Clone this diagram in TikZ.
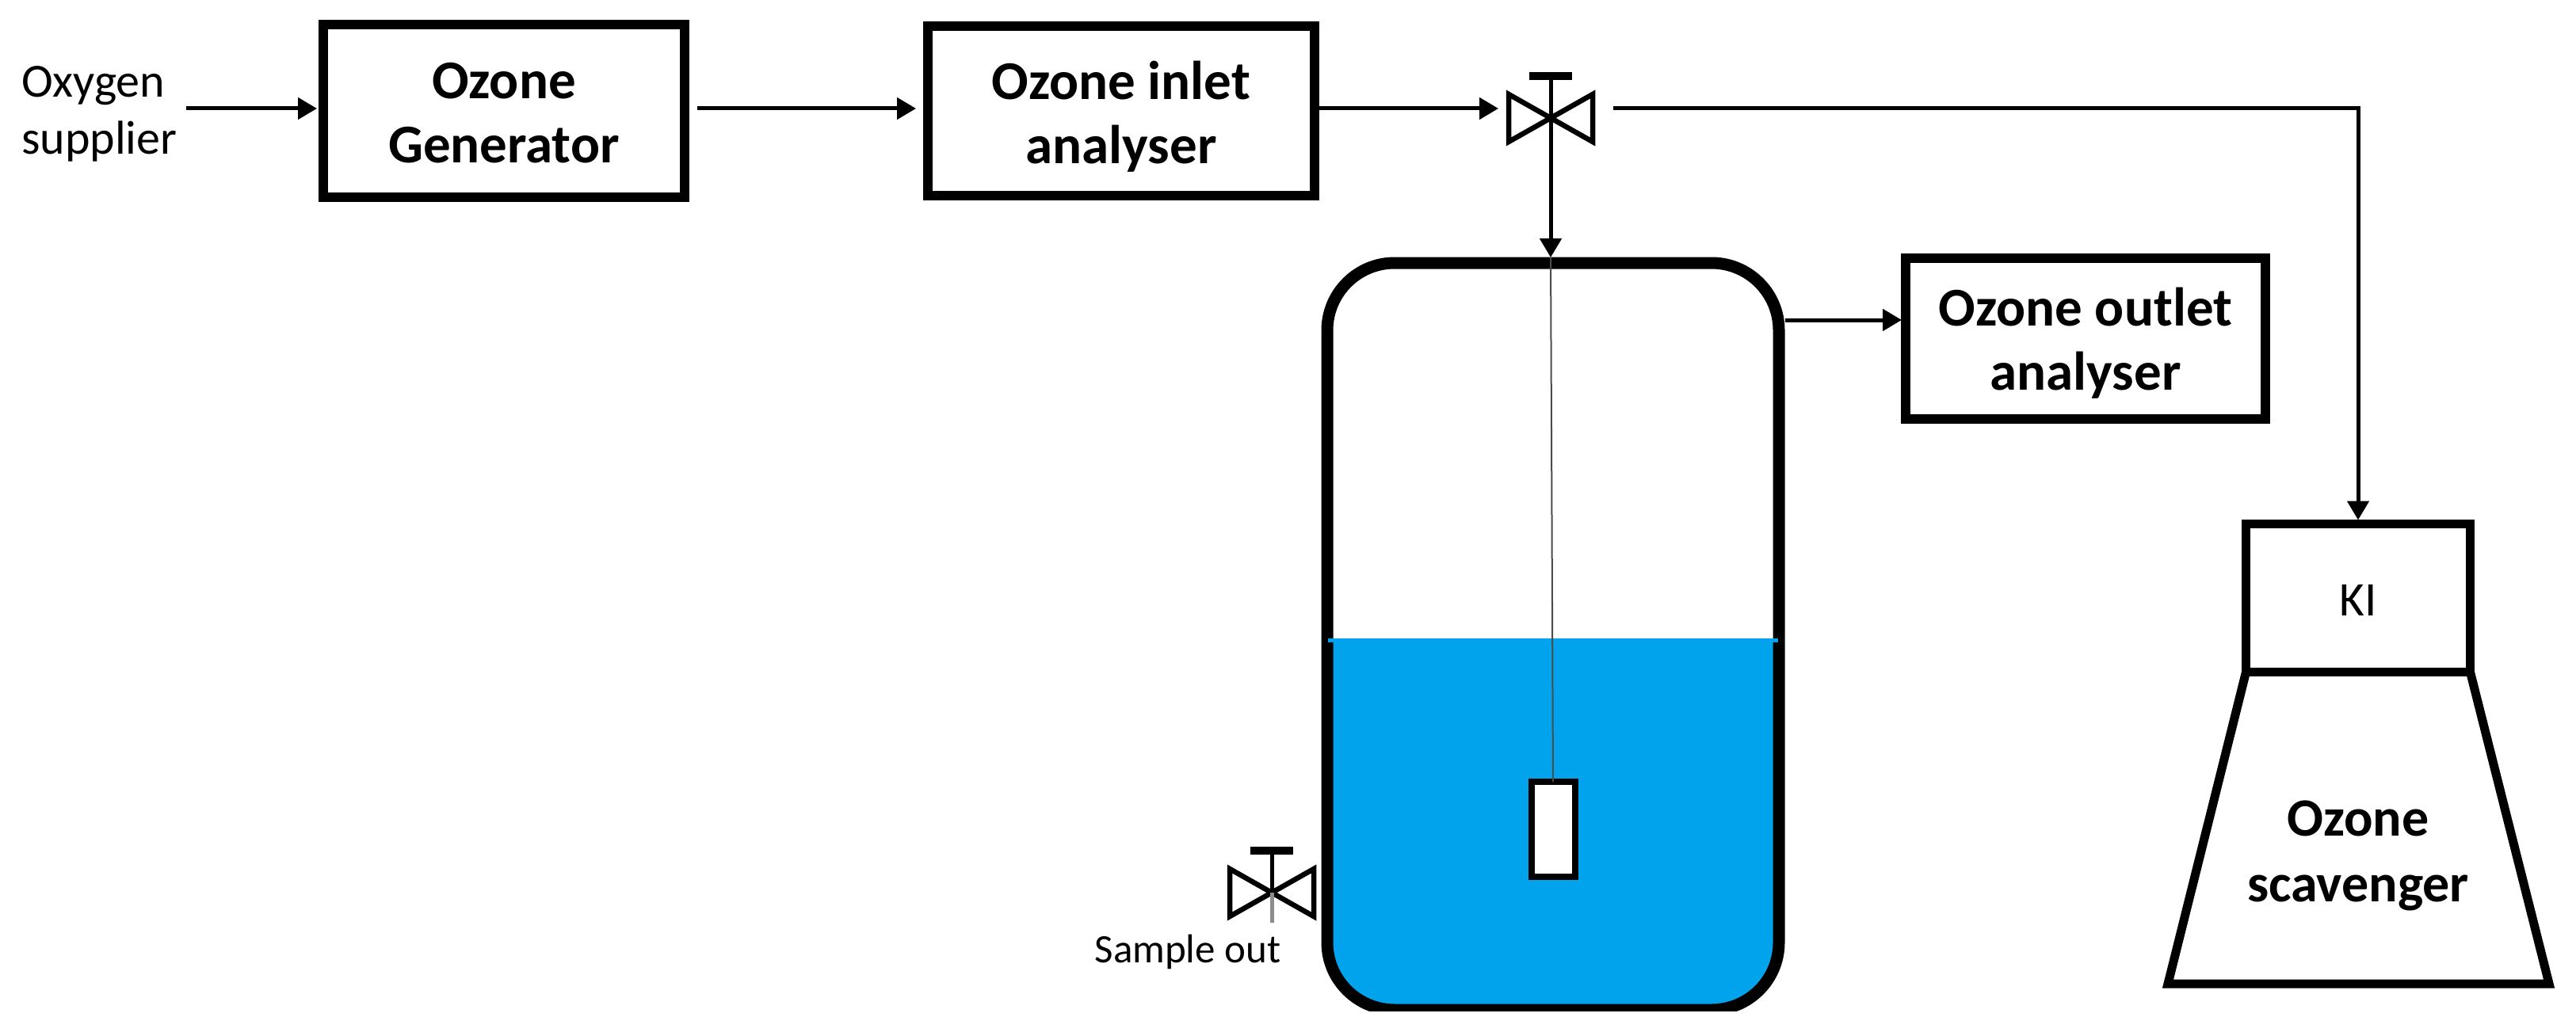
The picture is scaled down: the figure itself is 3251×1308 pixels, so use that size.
\documentclass[tikz,border=0pt]{standalone}
\usepackage{fontspec}
\setmainfont{Carlito}
\usetikzlibrary{arrows.meta,calc}
\definecolor{water}{RGB}{0,163,236}
\tikzset{
  boxnode/.style={draw=black,line width=12pt,inner sep=0pt,outer sep=0pt},
  boxtext/.style={inner sep=0pt,align=center,font=\fontsize{69}{81}\selectfont\bfseries},
  plain/.style={inner sep=0pt,align=left,font=\fontsize{60}{72}\selectfont},
  flow/.style={line width=5pt,-{Triangle[length=24pt,width=27pt]}},
  valvepic/.pic={
    \draw[line width=6.5pt,line join=miter] (-53,-30) -- (53,30) -- (53,-30) -- (-53,30) -- cycle;
    \draw[line width=5pt] (0,-53) -- (0,0);
    \draw[line width=5pt,black!45] (0,0) -- (0,38);
    \draw[line width=10pt] (-27,-53) -- (27,-53);
  }
}
\begin{document}
\begin{tikzpicture}[x=1pt,y=-1pt]
\useasboundingbox (0,0) rectangle (3251,1308);
% boxes
\node[boxnode,minimum width=456pt,minimum height=218pt] (gen) at (636,140) {};
\node[boxnode,minimum width=488pt,minimum height=214pt] (inlet) at (1415,140) {};
\node[boxnode,minimum width=454pt,minimum height=203pt] (outlet) at (2632,427) {};
\node[boxnode,line width=11pt,minimum width=283pt,minimum height=187pt] (ki) at (2976,755) {};
\node[boxtext] (gentext) at ($(gen)+(0,3)$) {Ozone\\Generator};
\node[boxtext] (inlettext) at ($(inlet)+(0,7)$) {Ozone inlet\\analyser};
\node[boxtext] (outlettext) at ($(outlet)+(0,6)$) {Ozone outlet\\analyser};
\node[inner sep=0pt,font=\fontsize{61}{72}\selectfont] (kitext) at ($(ki)+(0,3)$) {KI};
% scavenger
\draw[line width=11pt,line join=miter] (ki.south west) -- (2736,1242) -- (3217,1242) -- (ki.south east);
\node[boxtext,font=\fontsize{68}{83}\selectfont\bfseries] (scav) at (2976,1080) {Ozone\\scavenger};
% vessel
\begin{scope}
\clip (1600,300) rectangle (2300,1276);
\fill[water] (1675,808) -- (2245,808) -- (2245,1190) arc[start angle=0,end angle=90,radius=85] -- (1760,1275) arc[start angle=90,end angle=180,radius=85] -- cycle;
\draw[line width=15pt,rounded corners=85pt] (1675,332) rectangle (2245,1275);
\draw[water,line width=5pt] (1676,808) -- (2244,808);
\end{scope}
\node[minimum width=585pt,minimum height=950pt,inner sep=0pt,outer sep=0pt] (vessel) at (1960,800) {};
% probe
\node[draw=black,fill=white,line width=8pt,minimum width=55pt,minimum height=120pt,inner sep=0pt,outer sep=0pt] (probe) at (1960,1047) {};
% valves
\coordinate (v1) at (1957,149);
\coordinate (v2) at (1605,1127);
\pic at (v1) {valvepic};
\pic at (v2) {valvepic};
% texts
\node[plain,anchor=west] (oxy) at (27,144) {Oxygen\\supplier};
\node[inner sep=0pt,font=\fontsize{51}{60}\selectfont] (sample) at (1499,1202) {Sample out};
% connector ends
\coordinate (a0) at (235,137);
\coordinate (a1) at (880,137);
\coordinate (a3) at (2036,137);
\coordinate (a4) at (2976,137);
% connectors
\draw[flow,shorten >=8pt] (a0) -- (gen.west |- a0);
\draw[flow,shorten >=15pt] (a1) -- (inlet.west |- a1);
\draw[flow] (inlet.east |- a1) -- ($(v1 |- a1)+(-66,0)$);
\draw[flow] (v1) -- (v1 |- vessel.north);
\draw[flow,shorten >=5pt] (a3) -- (a4) -- (ki.north);
\draw[flow,shorten >=5pt] (vessel.east |- 0,404) -- (outlet.west |- 0,404);
\draw[line width=2pt,black!70] (v1 |- vessel.north) -- (probe.north);
\end{tikzpicture}
\end{document}
